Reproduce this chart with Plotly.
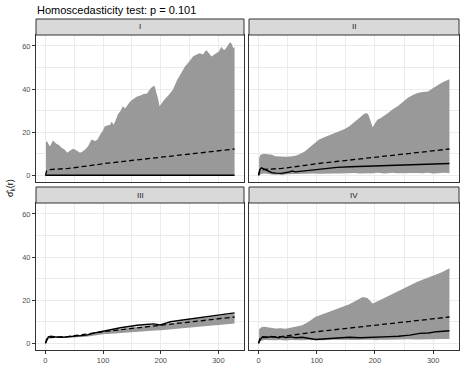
import plotly.graph_objects as go

# ---- data -------------------------------------------------------------
panel_names = ["I", "II", "III", "IV"]

# theoretical curve (dashed), same for every panel
r_theo = [0, 2, 5, 10, 20, 40, 60, 80, 100, 130, 160, 190, 220, 250, 280, 310, 328]
theo = [0, 2.0, 2.6, 2.8, 2.9, 3.2, 3.8, 4.6, 5.4, 6.3, 7.2, 8.1, 9.0, 10.0, 10.9, 11.7, 12.2]

# panel I: envelope (lower bound is zero), observed is zero
r_I = [1, 3, 5, 8, 13, 19, 24, 28, 33, 38, 43, 48, 54, 60, 65, 69, 74, 80, 86, 90,
       95, 99, 103, 108, 112, 115, 118, 121, 126, 130, 134, 138, 142, 147, 153, 159, 165, 170, 176, 183,
       189, 192, 195, 198, 202, 206, 213, 221, 228, 236, 242, 247, 252, 256, 262, 268, 273, 279, 284, 288,
       293, 297, 301, 305, 308, 311, 315, 320, 323, 326, 328]
up_I = [15.5, 15.8, 14.5, 13.5, 16.1, 14.6, 14.0, 12.8, 12.0, 10.5, 11.5, 12.3, 11.5, 10.5, 11.2, 12.0, 13.5, 16.6, 15.9, 16.5,
        18.9, 20.5, 22.8, 23.2, 23.5, 24.8, 23.5, 25.0, 28.5, 29.7, 32.0, 31.0, 32.5, 34.3, 35.5, 36.6, 37.0, 37.7, 38.0, 40.5,
        41.7, 39.0, 35.9, 32.0, 33.5, 35.1, 37.0, 39.7, 44.0, 48.1, 50.5, 52.0, 53.5, 55.1, 56.0, 56.6, 56.0, 58.1, 56.5, 55.1,
        56.0, 56.6, 57.5, 59.7, 58.5, 58.1, 60.0, 61.7, 61.0, 59.0, 59.5]
r_obs_I = [0, 328]
obs_I = [0, 0]

# panel II
r_II = [1, 3, 9, 17, 23, 29, 35, 40, 48, 58, 65, 72, 80, 87, 95, 104, 112, 121, 130, 139,
        148, 156, 165, 173, 181, 186, 189, 192, 196, 200, 204, 210, 215, 222, 230, 239, 248, 256, 265, 273,
        282, 291, 300, 308, 314, 319, 324, 328]
up_II = [8.0, 9.4, 10.0, 9.7, 9.5, 8.9, 8.8, 8.5, 8.6, 8.9, 9.2, 10.0, 11.2, 12.8, 14.5, 16.6, 17.5, 18.5, 19.6, 20.5,
         21.5, 22.8, 25.0, 26.6, 28.4, 28.9, 28.0, 25.5, 22.3, 24.0, 25.8, 26.6, 27.4, 28.8, 30.5, 32.0, 34.0, 35.9, 37.3, 38.2,
         38.6, 38.9, 40.5, 42.0, 42.8, 43.5, 44.0, 44.6]
lo_II = [0.3, 0.5, 0.8, 0.6, 0.4, 0.3, 0.4, 0.2, 0.5, 0.6, 0.4, 0.7, 0.8, 0.6, 0.9, 0.7, 0.8, 1.0, 0.9, 0.8,
         1.0, 0.9, 1.1, 0.9, 1.0, 1.2, 1.0, 0.9, 1.1, 1.0, 1.2, 1.1, 0.9, 1.0, 1.2, 1.0, 1.1, 0.9, 1.2, 1.1,
         1.0, 1.2, 0.9, 1.1, 1.0, 1.2, 1.1, 1.0]
r_obs_II = [0, 2, 5, 10, 16, 23, 30, 40, 50, 58, 63, 70, 81, 95, 115, 135, 158, 185, 215, 245, 273, 300, 328]
obs_II = [0, 2.5, 3.5, 2.8, 2.0, 1.2, 1.0, 0.9, 1.4, 2.0, 1.6, 1.8, 2.3, 2.8, 3.3, 3.7, 4.0, 4.2, 4.5, 4.8, 5.1, 5.3, 5.5]

# panel III
r_III = [1, 5, 10, 20, 30, 40, 50, 60, 70, 80, 90, 100, 120, 140, 160, 180, 190, 200, 220, 240, 260, 280, 300, 315, 328]
up_III = [1.5, 3.0, 3.3, 2.9, 2.8, 2.9, 3.1, 3.3, 3.6, 4.2, 4.8, 5.4, 6.3, 7.0, 7.7, 8.4, 8.6, 8.4, 9.6, 10.5,
          11.3, 11.9, 12.6, 13.2, 13.8]
lo_III = [0.5, 2.0, 2.7, 2.5, 2.5, 2.6, 2.7, 2.9, 3.1, 3.4, 3.8, 4.2, 4.6, 5.1, 5.5, 5.8, 6.0, 6.1, 6.5, 7.0,
          7.5, 8.0, 8.5, 8.9, 9.2]
r_obs_III = [0, 3, 5, 10, 19, 30, 42, 55, 71, 85, 100, 115, 130, 145, 159, 175, 188, 199, 210, 217,
             232, 246, 260, 275, 290, 304, 318, 328]
obs_III = [0, 2.2, 3.0, 3.3, 2.9, 2.8, 3.0, 3.3, 3.8, 4.8, 5.7, 6.4, 7.2, 7.8, 8.4, 8.7, 9.0, 8.5, 9.3, 10.0,
           10.6, 11.1, 11.7, 12.3, 12.7, 13.1, 13.6, 14.1]

# panel IV
r_IV = [1, 5, 10, 18, 29, 38, 46, 55, 64, 75, 86, 98, 110, 127, 140, 156, 168, 179, 187, 192,
        196, 202, 208, 220, 232, 243, 258, 272, 286, 300, 315, 328]
up_IV = [6.5, 7.4, 7.7, 7.3, 6.9, 7.0, 6.8, 7.2, 7.7, 8.4, 10.0, 12.3, 13.5, 15.4, 16.5, 18.1, 19.8, 21.5, 21.0, 19.5,
         18.5, 19.2, 20.0, 21.8, 23.2, 24.6, 26.5, 28.4, 30.0, 31.5, 33.0, 34.8]
lo_IV = [0.5, 1.2, 1.5, 1.6, 1.4, 1.5, 1.3, 1.5, 1.6, 1.4, 1.5, 1.3, 1.4, 1.6, 1.5, 1.7, 1.5, 1.6, 1.7, 1.5,
         1.6, 1.5, 1.7, 1.6, 1.8, 1.7, 1.9, 1.8, 2.0, 1.9, 2.0, 2.0]
r_obs_IV = [0, 3, 7, 12, 17, 22, 29, 35, 40, 47, 55, 64, 75, 86, 98, 110, 127, 140, 156, 175,
            195, 210, 225, 240, 260, 277, 292, 306, 318, 328]
obs_IV = [0, 1.8, 3.1, 2.9, 2.8, 3.2, 2.8, 2.6, 3.1, 2.7, 3.0, 2.6, 2.8, 2.2, 1.8, 2.0, 2.3, 2.5, 2.8, 2.6,
          2.7, 2.9, 3.1, 3.3, 3.8, 4.6, 4.8, 5.4, 5.5, 5.8]

x_ticks = [0, 100, 200, 300]
y_ticks = [0, 20, 40, 60]

BAND = '#999999'
W, H = 464, 367

# panel pixel boxes: (left, right, top, bottom)
boxes = [(36, 244, 35, 182), (249, 459, 35, 182), (36, 244, 203, 350), (249, 459, 203, 350)]
STRIP_H = 16

fig = go.Figure()

bands = [
    (r_I, None, up_I),
    (r_II, lo_II, up_II),
    (r_III, lo_III, up_III),
    (r_IV, lo_IV, up_IV),
]
observed = [(r_obs_I, obs_I), (r_obs_II, obs_II), (r_obs_III, obs_III), (r_obs_IV, obs_IV)]

for i in range(4):
    xa = 'x' if i == 0 else f'x{i + 1}'
    ya = 'y' if i == 0 else f'y{i + 1}'
    r, lo, up = bands[i]
    if lo is None:
        fig.add_trace(go.Scatter(x=r, y=up, mode='lines', line=dict(width=0), fill='tozeroy',
                                 fillcolor=BAND, xaxis=xa, yaxis=ya, showlegend=False))
    else:
        fig.add_trace(go.Scatter(x=r, y=lo, mode='lines', line=dict(width=0),
                                 xaxis=xa, yaxis=ya, showlegend=False))
        fig.add_trace(go.Scatter(x=r, y=up, mode='lines', line=dict(width=0), fill='tonexty',
                                 fillcolor=BAND, xaxis=xa, yaxis=ya, showlegend=False))
    fig.add_trace(go.Scatter(x=r_theo, y=theo, mode='lines',
                             line=dict(color='black', width=1.3, dash='5px,3px'),
                             xaxis=xa, yaxis=ya, showlegend=False))
    fig.add_trace(go.Scatter(x=observed[i][0], y=observed[i][1], mode='lines',
                             line=dict(color='black', width=1.4),
                             xaxis=xa, yaxis=ya, showlegend=False))

layout = dict(
    width=W, height=H,
    margin=dict(l=0, r=0, t=0, b=0),
    paper_bgcolor='white', plot_bgcolor='white',
    font=dict(family='Liberation Sans, Arial, sans-serif', color='#4D4D4D', size=7.5),
    shapes=[], annotations=[],
)

for i, (l, rgt, t, b) in enumerate(boxes):
    key = '' if i == 0 else str(i + 1)
    bottom_row = i >= 2
    left_col = i % 2 == 0
    layout['xaxis' + key] = dict(
        domain=[l / W, rgt / W], anchor='y' + key, range=[-16.4, 344.4],
        tickvals=x_ticks, showticklabels=bottom_row,
        ticks='outside' if bottom_row else '', ticklen=3, tickcolor='#333333',
        showgrid=True, gridcolor='#EBEBEB', gridwidth=1, zeroline=False,
        minor=dict(tick0=0, dtick=50, showgrid=True, gridcolor='#EBEBEB', gridwidth=0.5, ticks=''),
        showline=True, mirror=True, linecolor='#333333', linewidth=1,
    )
    layout['yaxis' + key] = dict(
        domain=[1 - b / H, 1 - t / H], anchor='x' + key, range=[-3.1, 65.1],
        tickvals=y_ticks, showticklabels=left_col,
        ticks='outside' if left_col else '', ticklen=3, tickcolor='#333333',
        showgrid=True, gridcolor='#EBEBEB', gridwidth=1, zeroline=False,
        minor=dict(tick0=0, dtick=10, showgrid=True, gridcolor='#EBEBEB', gridwidth=0.5, ticks=''),
        showline=True, mirror=True, linecolor='#333333', linewidth=1,
    )
    # facet strip
    layout['shapes'].append(dict(
        type='rect', xref='paper', yref='paper',
        x0=l / W, x1=rgt / W, y0=1 - t / H, y1=1 - (t - STRIP_H) / H,
        fillcolor='#D9D9D9', line=dict(color='#333333', width=1), layer='above'))
    layout['annotations'].append(dict(
        text=panel_names[i], xref='paper', yref='paper',
        x=(l + rgt) / 2 / W, y=1 - (t - STRIP_H / 2) / H,
        showarrow=False, font=dict(size=8, color='#1A1A1A'),
        xanchor='center', yanchor='middle'))

layout['annotations'].append(dict(
    text='Homoscedasticity test: p = 0.101', xref='paper', yref='paper',
    x=35 / W, y=1 - 10 / H, xanchor='left', yanchor='middle', showarrow=False,
    font=dict(size=11, color='black')))
layout['annotations'].append(dict(
    text='\u03c3\u0302<sub>k</sub>(r)', xref='paper', yref='paper',
    x=10 / W, y=1 - 188 / H, xanchor='center', yanchor='middle', showarrow=False,
    textangle=-90, font=dict(size=9, color='black')))

fig.update_layout(**layout)

# remove the default page margin so the 464x367 figure fills the window
fig.write_html("out.html", config={'displayModeBar': False},
               post_script="document.body.style.margin='0';")
